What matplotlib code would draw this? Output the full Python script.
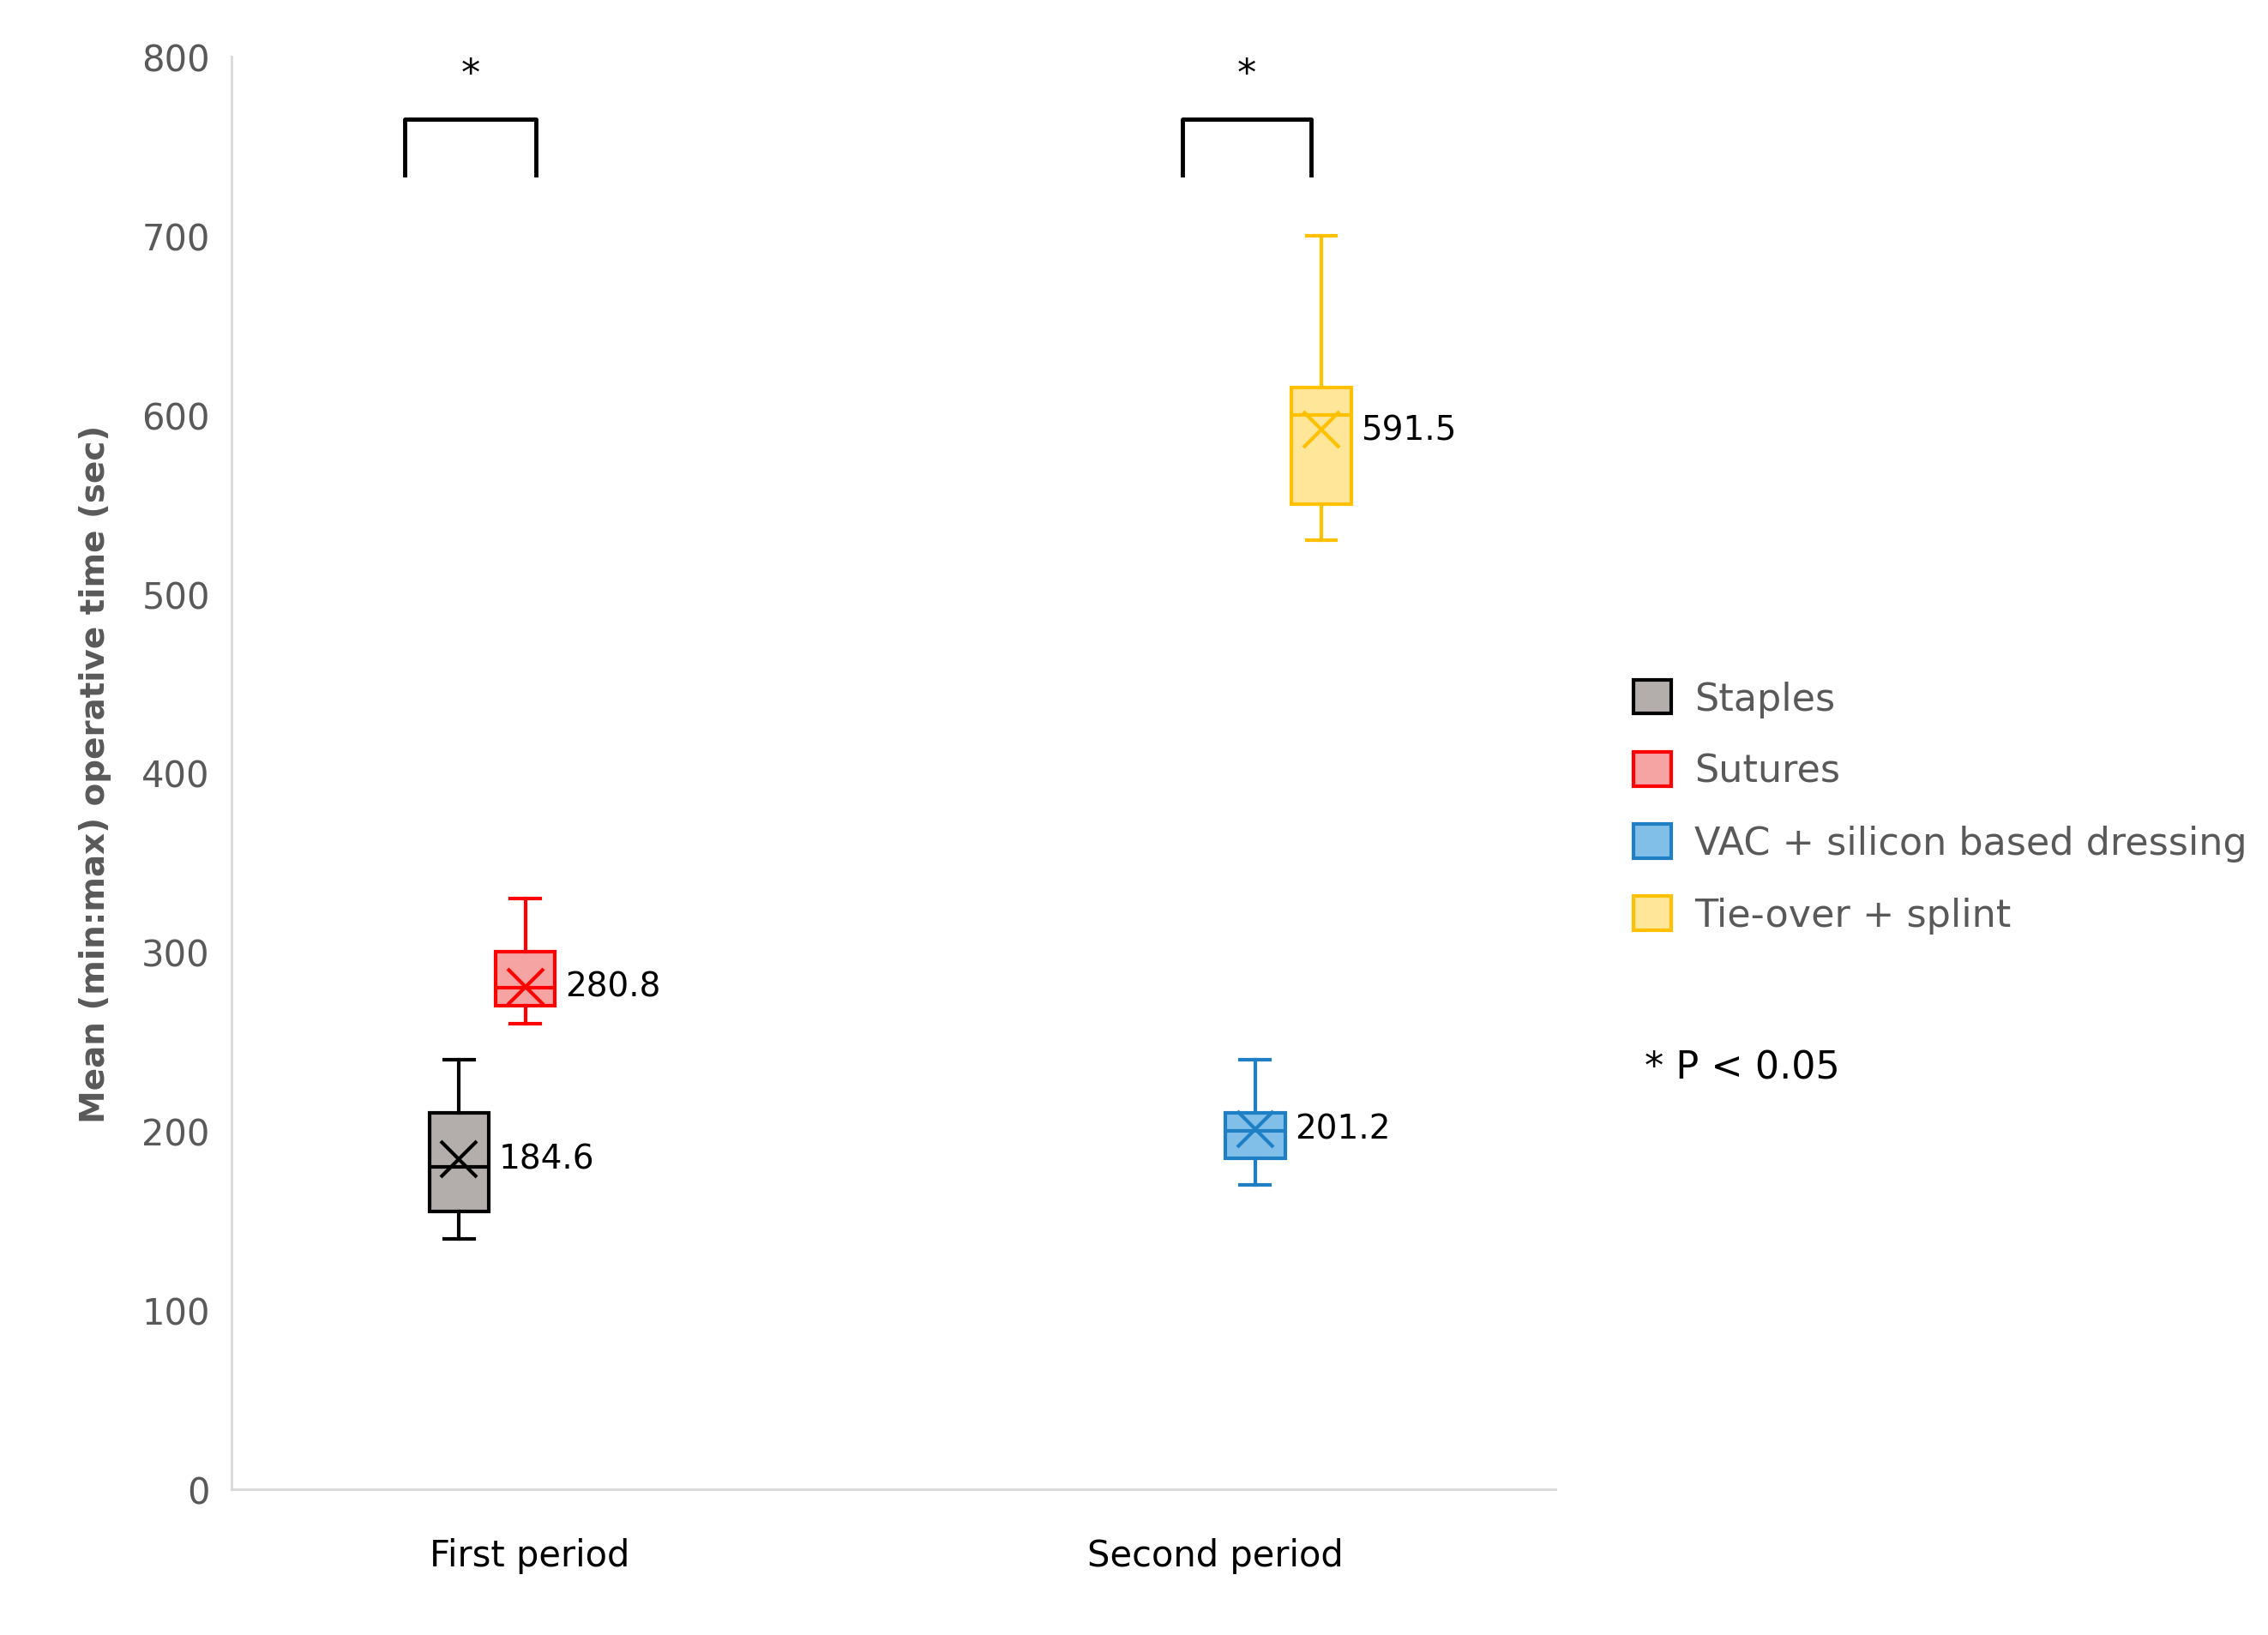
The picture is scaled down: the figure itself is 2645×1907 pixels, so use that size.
import matplotlib
matplotlib.use("Agg")
import matplotlib.pyplot as plt
from matplotlib.patches import Patch

groups = ["Staples", "Sutures", "VAC + silicon based dressing", "Tie-over + splint"]
positions = [1.72, 2.22, 7.73, 8.23]
whislo = [140, 260, 170, 530]
q1 = [155, 270, 185, 550]
med = [180, 280, 200, 600]
q3 = [210, 300, 210, 615]
whishi = [240, 330, 240, 700]
means = [184.6, 280.8, 201.2, 591.5]
edges = ["#000000", "#ff0000", "#1f7fc4", "#ffc000"]
faces = ["#b3aeab", "#f5a3a3", "#82bfe8", "#ffe699"]
periods = ["First period", "Second period"]
period_x = [2.25, 7.43]

fig = plt.figure(figsize=(26.45, 19.08), dpi=100)
ax = fig.add_axes([0.102, 0.089, 0.584, 0.876])

for i in range(4):
    st = [dict(whislo=whislo[i], q1=q1[i], med=med[i], q3=q3[i], whishi=whishi[i], mean=means[i])]
    c = edges[i]
    ax.bxp(st, positions=[positions[i]], widths=0.45, showmeans=True, showfliers=False,
           patch_artist=True,
           boxprops=dict(facecolor=faces[i], edgecolor=c, linewidth=3),
           medianprops=dict(color=c, linewidth=3),
           whiskerprops=dict(color=c, linewidth=3),
           capprops=dict(color=c, linewidth=3),
           meanprops=dict(marker="x", markeredgecolor=c, markersize=30, markeredgewidth=3))
    ax.text(positions[i] + 0.3, means[i], f"{means[i]}", fontsize=28, va="center", ha="left")

for xl, xr in [(1.31, 2.30), (7.18, 8.15)]:
    ax.plot([xl, xl, xr, xr], [734, 765, 765, 734], color="black", lw=3.5)
    ax.text((xl + xr) / 2, 780, "*", fontsize=32, ha="center", va="bottom")

ax.set_xlim(0, 10)
ax.set_ylim(0, 800)
ax.set_yticks(range(0, 801, 100))
ax.set_xticks(period_x)
ax.set_xticklabels(periods)
ax.tick_params(axis="y", labelsize=30, labelcolor="#595959", length=0, pad=18)
ax.tick_params(axis="x", labelsize=30, length=0, pad=40)
for s in ["top", "right"]:
    ax.spines[s].set_visible(False)
for s in ["left", "bottom"]:
    ax.spines[s].set_color("#d9d9d9")
    ax.spines[s].set_linewidth(2)
ax.set_ylabel("Mean (min:max) operative time (sec)", fontsize=28, fontweight="bold",
              color="#595959", labelpad=25)

handles = [Patch(facecolor=faces[i], edgecolor=edges[i], linewidth=3) for i in range(4)]
leg = fig.legend(handles, groups, loc="upper left", bbox_to_anchor=(0.705, 0.605),
                 frameon=False, fontsize=32, labelspacing=0.9, handlelength=1.0,
                 handleheight=1.0, handletextpad=0.6)
for t in leg.get_texts():
    t.set_color("#595959")
fig.text(0.725, 0.347, "* P < 0.05", fontsize=32, va="center")

fig.savefig("out.png", dpi=100)
